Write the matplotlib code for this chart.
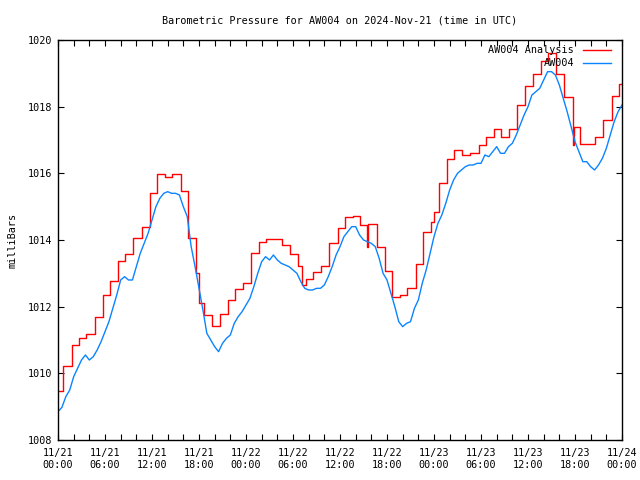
import numpy as np
import matplotlib
matplotlib.use("Agg")
import matplotlib.pyplot as plt
from matplotlib.lines import Line2D

# ---- data ----
title = "Barometric Pressure for AW004 on 2024-Nov-21 (time in UTC)"
ylabel = "milliBars"
series_names = ["AW004 Analysis", "AW004"]

# Analysis (step series): change times in hours since 11/21 00:00 and values
red_t = [0, 0.68, 1.74, 2.7, 3.6, 4.7, 5.7, 6.7, 7.66, 8.6,
         9.6, 10.7, 11.7, 12.7, 13.66, 14.6, 15.66, 16.6, 17.65, 18.0,
         18.6, 19.6, 20.7, 21.66, 22.6, 23.6, 24.6, 25.6, 26.6, 28.6,
         29.6, 30.7, 31.1, 31.6, 32.6, 33.6, 34.6, 35.7, 36.7, 37.7,
         38.6, 39.4, 39.6, 40.7, 41.7, 42.6, 43.7, 44.6, 45.7, 46.6,
         47.6, 48.0, 48.7, 49.6, 50.6, 51.6, 52.6, 53.7, 54.6, 55.6,
         56.6, 57.6, 58.6, 59.6, 60.6, 61.6, 62.5, 63.6, 64.6, 65.7,
         65.9, 66.6, 68.6, 69.6, 70.7, 71.6, 72.0]
red_v = [1009.47, 1010.22, 1010.85, 1011.05, 1011.18, 1011.69, 1012.34, 1012.77, 1013.37, 1013.58,
         1014.05, 1014.38, 1015.4, 1015.97, 1015.9, 1015.97, 1015.47, 1014.05, 1013.0, 1012.1,
         1011.75, 1011.42, 1011.77, 1012.19, 1012.52, 1012.7, 1013.6, 1013.94, 1014.02, 1013.85,
         1013.57, 1013.21, 1012.65, 1012.83, 1013.03, 1013.21, 1013.92, 1014.35, 1014.68, 1014.72,
         1014.45, 1013.8, 1014.48, 1013.78, 1013.07, 1012.3, 1012.34, 1012.55, 1013.27, 1014.24,
         1014.55, 1014.83, 1015.7, 1016.43, 1016.7, 1016.54, 1016.6, 1016.84, 1017.08, 1017.32,
         1017.08, 1017.32, 1018.04, 1018.62, 1018.97, 1019.38, 1019.6, 1018.99, 1018.29, 1016.85,
         1017.38, 1016.88, 1017.08, 1017.6, 1018.31, 1018.68, 1018.68]

# Observed station values, every half hour
blue_v = [1008.85, 1008.98, 1009.3, 1009.5, 1009.9, 1010.15, 1010.4, 1010.55, 1010.4, 1010.5,
          1010.7, 1010.95, 1011.25, 1011.55, 1011.95, 1012.35, 1012.8, 1012.9, 1012.8, 1012.8,
          1013.2, 1013.6, 1013.9, 1014.2, 1014.6, 1015.0, 1015.25, 1015.4, 1015.45, 1015.4,
          1015.4, 1015.35, 1015.0, 1014.7, 1013.8, 1013.2, 1012.55, 1011.9, 1011.2, 1011.0,
          1010.8, 1010.65, 1010.9, 1011.05, 1011.15, 1011.5, 1011.7, 1011.85, 1012.05, 1012.25,
          1012.6, 1013.0, 1013.35, 1013.5, 1013.4, 1013.55, 1013.4, 1013.3, 1013.25, 1013.2,
          1013.1, 1013.0, 1012.75, 1012.55, 1012.5, 1012.5, 1012.55, 1012.55, 1012.65, 1012.9,
          1013.2, 1013.55, 1013.8, 1014.1, 1014.25, 1014.4, 1014.4, 1014.15, 1014.0, 1013.95,
          1013.9, 1013.8, 1013.45, 1013.0, 1012.8, 1012.4, 1012.0, 1011.55, 1011.4, 1011.5,
          1011.55, 1011.95, 1012.2, 1012.7, 1013.1, 1013.6, 1014.1, 1014.5, 1014.75, 1015.1,
          1015.5, 1015.8, 1016.0, 1016.1, 1016.2, 1016.25, 1016.25, 1016.3, 1016.3, 1016.55,
          1016.5, 1016.65, 1016.8, 1016.6, 1016.6, 1016.8, 1016.9, 1017.15, 1017.45, 1017.75,
          1018.0, 1018.35, 1018.45, 1018.55, 1018.8, 1019.05, 1019.05, 1018.95, 1018.65, 1018.25,
          1017.85, 1017.4, 1016.95, 1016.65, 1016.35, 1016.35, 1016.2, 1016.1, 1016.25, 1016.45,
          1016.75, 1017.15, 1017.55, 1017.85, 1018.05]
blue_t = np.arange(len(blue_v)) * 0.5

xtick_labels = ["11/21\n00:00", "11/21\n06:00", "11/21\n12:00", "11/21\n18:00",
                "11/22\n00:00", "11/22\n06:00", "11/22\n12:00", "11/22\n18:00",
                "11/23\n00:00", "11/23\n06:00", "11/23\n12:00", "11/23\n18:00",
                "11/24\n00:00"]
yticks = [1008, 1010, 1012, 1014, 1016, 1018, 1020]

# ---- plot ----
FONT = "DejaVu Sans Mono"
FS = 7.3
RED = "#ff0000"
BLUE = "#0a84ff"

fig = plt.figure(figsize=(6.4, 4.8), dpi=100)
ax = fig.add_axes([58/640, 40/480, 564/640, 400/480])

ax.step(red_t, red_v, where="post", color=RED, lw=1.0)
ax.plot(blue_t, blue_v, color=BLUE, lw=1.0)

ax.set_xlim(0, 72)
ax.set_ylim(1008, 1020)
ax.set_xticks(np.arange(0, 73, 6))
ax.set_xticklabels(xtick_labels, fontfamily=FONT, fontsize=FS)
ax.set_xticks(np.arange(0, 73, 2), minor=True)
ax.set_yticks(yticks)
ax.set_yticklabels([str(v) for v in yticks], fontfamily=FONT, fontsize=FS)
ax.tick_params(which="both", direction="in", top=True, right=True, length=4, width=0.8)
ax.tick_params(axis="x", which="major", pad=6)
ax.tick_params(axis="y", which="major", pad=4)
for s in ax.spines.values():
    s.set_linewidth(1.0)

ax.set_title(title, fontfamily=FONT, fontsize=FS, pad=12)
ax.set_ylabel(ylabel, fontfamily=FONT, fontsize=FS)
ax.yaxis.set_label_coords(-0.071, 0.5)

# legend (gnuplot style: text right aligned, sample to the right)
ax.text(0.915, 0.975, series_names[0], transform=ax.transAxes, ha="right", va="center",
        fontfamily=FONT, fontsize=FS)
ax.add_line(Line2D([0.930, 0.980], [0.975, 0.975], transform=ax.transAxes, color=RED, lw=1.0))
ax.text(0.915, 0.9425, series_names[1], transform=ax.transAxes, ha="right", va="center",
        fontfamily=FONT, fontsize=FS)
ax.add_line(Line2D([0.930, 0.980], [0.9425, 0.9425], transform=ax.transAxes, color=BLUE, lw=1.0))

fig.savefig("out.png", dpi=100)
